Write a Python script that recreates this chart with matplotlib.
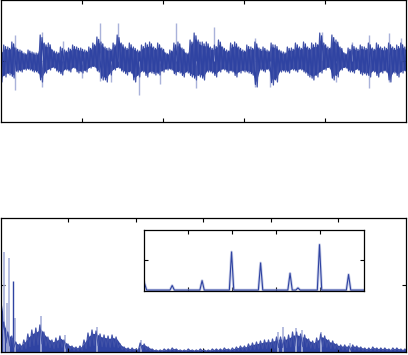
import numpy as np
import matplotlib
matplotlib.use('Agg')
import matplotlib.pyplot as plt

# top: time signal, dense band read per 4 px column (upper / lower edge, px from centre)
sig_hi = [10, 16, 14, 19, 13, 11, 8, 11, 9, 8, 26, 18, 18, 11, 9, 14, 11, 13, 16, 14, 13, 11, 14, 18, 24,
          19, 14, 13, 18, 26, 18, 14, 18, 14, 11, 16, 18, 19, 14, 18, 13, 8, 11, 18, 19, 13, 8, 21, 28, 21, 19,
          19, 14, 16, 21, 14, 11, 18, 19, 14, 11, 16, 14, 19, 13, 14, 11, 18, 16, 11, 9, 14, 13, 18, 14, 19,
          14, 18, 18, 28, 18, 14, 26, 21, 14, 8, 13, 16, 13, 16, 14, 18, 13, 18, 14, 14, 18, 14, 16, 18, 14]
sig_lo = [-21, -16, -14, -17, -11, -11, -9, -9, -11, -12, -21, -12, -9, -7, -11, -14, -9, -11, -7, -12, -12, -11, -7, -6, -11,
          -19, -21, -14, -9, -7, -11, -14, -12, -21, -16, -11, -16, -12, -14, -14, -11, -9, -9, -14, -12, -16, -12, -16, -19, -16, -19,
          -11, -12, -16, -11, -9, -12, -11, -16, -12, -11, -12, -14, -26, -9, -11, -9, -24, -21, -11, -11, -12, -9, -11, -9, -12,
          -16, -19, -16, -12, -9, -7, -19, -16, -9, -7, -11, -12, -9, -14, -14, -16, -11, -16, -12, -11, -21, -12, -16, -12, -11]
# isolated outliers (sample index, value)
out_t = [172, 172, 505, 505, 764, 998, 1219, 1219, 1355, 1441, 1700, 1970, 2167, 2414, 2635,
         3140, 3140, 3325, 3966, 4138, 4335, 4544, 4544, 4791, 4791, 4938]
out_v = [26, -29, 29, -26, 20, -17, 38, -20, -21, 38, -34, -23, 38, -27, 34,
         23, -26, -26, 29, -21, 19, 26, -27, 28, -21, 23]

# bottom: spectrum magnitude per 4 px column
spec = [61, 30, 20, 16, 10, 8, 12, 18, 22, 24, 27, 20, 15, 12, 14, 16, 12, 8, 6, 5, 6, 12, 19, 22, 21, 18,
        17, 16, 17, 15, 8, 5, 4, 4, 3, 9, 8, 5, 3, 2, 2, 3, 3, 4, 3, 2, 2, 3, 2, 2, 3, 2, 2, 3, 3,
        3, 4, 3, 4, 5, 6, 6, 8, 9, 10, 11, 12, 12, 13, 15, 15, 15, 17, 20, 20, 18, 17, 13, 11, 14, 18, 16,
        12, 11, 8, 7, 7, 6, 7, 6, 5, 4, 4, 5, 4, 4, 4, 3, 4, 4, 3, 3]
spk_f = [4.4, 8.9, 11.8, 20.7, 59, 94.6, 143, 207, 411, 418, 437, 446, 474, 517]
spk_v = [100, 49, 94, 34, 36, 17, 25, 12, 20, 25, 24, 22, 20, 9]
dark_f = [17.7]
dark_v = [71]

# inset: harmonic peaks
pk_f = [0.64, 1.32, 1.99, 2.65, 3.32, 3.50, 3.99, 4.65]
pk_h = [0.18, 0.34, 1.28, 0.92, 0.58, 0.10, 1.52, 0.54]

blue = '#2f43a2'
light = '#a9b2da'

fig = plt.figure(figsize=(4.08, 3.55), dpi=100)

def frame(ax):
    ax.tick_params(direction='in', length=3, width=0.8, top=True, right=True,
                   labelbottom=False, labelleft=False)
    for s in ax.spines.values():
        s.set_linewidth(0.9)

def needles(x, a, b, half):
    # zigzag between the two edges so the band looks like a dense trace
    xx = np.repeat(x, 2) + np.tile([-half, half], len(x))
    yy = np.column_stack([a, b]).ravel()
    return xx, yy

# top signal
ax1 = fig.add_axes([0.002, 0.6563, 0.993, 0.3437])
t = np.linspace(0, 5000, len(sig_hi))
hi = np.array(sig_hi, float)
lo = np.array(sig_lo, float)
ax1.vlines(out_t, 0, out_v, color=light, lw=1.0)
xx, yy = needles(t, hi, lo, 14)
ax1.plot(xx, yy, color='#4152a8', lw=0.9)
ax1.fill_between(t, 0.8 * lo, 0.8 * hi, color=blue, lw=0)
xx, yy = needles(t, 0.9 * lo, 0.9 * hi, 8)
ax1.plot(xx, yy, color=blue, lw=0.9)
ax1.set_xlim(0, 5000)
ax1.set_ylim(-61, 61)
ax1.set_xticks([1000, 2000, 3000, 4000])
ax1.set_yticks([0])
frame(ax1)

# bottom spectrum
ax2 = fig.add_axes([0.002, 0.0085, 0.993, 0.3775])
f = np.linspace(0, 600, len(spec))
s = np.array(spec, float)
ax2.vlines(spk_f, 0, spk_v, color=light, lw=1.2)
ax2.vlines(dark_f, 0, dark_v, color=blue, lw=1.0)
xx, yy = needles(f, s, 0.3 * s, 1.6)
ax2.plot(xx, yy, color='#4152a8', lw=0.9)
ax2.fill_between(f, 0, 0.85 * s, color=blue, lw=0)
ax2.set_xlim(0, 600)
ax2.set_ylim(0, 134)
ax2.set_xticks([100, 200, 300, 400, 500])
ax2.set_yticks([67])
frame(ax2)

# inset zoom of the harmonics
ax3 = fig.add_axes([0.353, 0.1803, 0.539, 0.1718])
xs = [0.0, 0.06]
ys = [0.30, 0.03]
for pf, ph in zip(pk_f, pk_h):
    xs += [pf - 0.05, pf, pf + 0.05]
    ys += [0.03, ph, 0.03]
xs.append(5.0)
ys.append(0.03)
ax3.plot(xs, ys, color=light, lw=2.0, alpha=0.6)
ax3.plot(xs, ys, color=blue, lw=0.8)
ax3.set_xlim(0, 5)
ax3.set_ylim(0, 2)
ax3.set_xticks([1, 2, 3, 4])
ax3.set_yticks([1])
frame(ax3)

fig.savefig('out.png', dpi=100)
plt.close(fig)
